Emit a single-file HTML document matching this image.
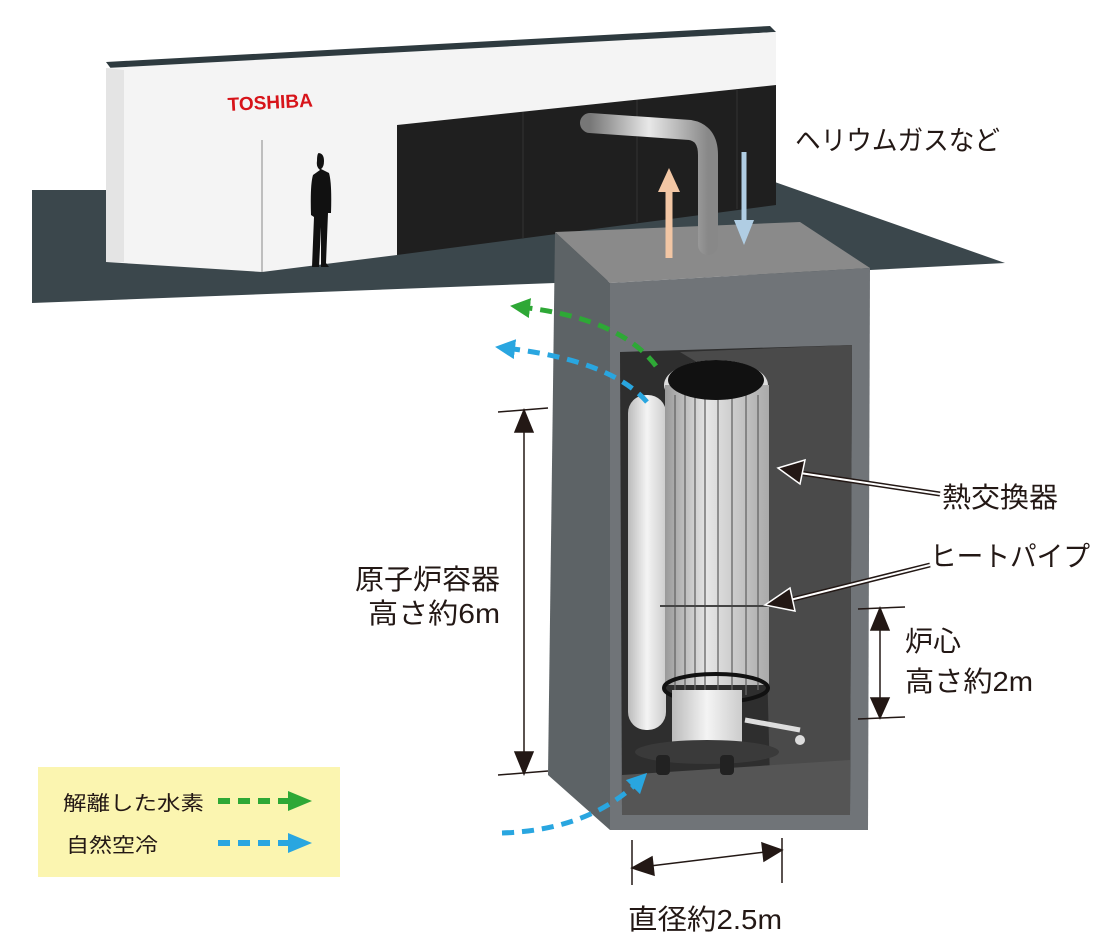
<!DOCTYPE html>
<html><head><meta charset="utf-8"><style>
html,body{margin:0;padding:0;background:#fff}
svg{display:block}
text{font-family:"Liberation Sans","Noto Sans CJK JP",sans-serif;fill:#231815}
</style></head><body>
<svg width="1098" height="940" viewBox="0 0 1098 940" xmlns="http://www.w3.org/2000/svg">
<defs>
<linearGradient id="pipe" x1="0" x2="1"><stop offset="0" stop-color="#777"/><stop offset=".5" stop-color="#e8e8e8"/><stop offset="1" stop-color="#888"/></linearGradient>
<linearGradient id="core" x1="0" x2="1"><stop offset="0" stop-color="#999"/><stop offset=".4" stop-color="#e6e6e6"/><stop offset="1" stop-color="#aaa"/></linearGradient>
<linearGradient id="tank" x1="0" x2="1"><stop offset="0" stop-color="#bbb"/><stop offset=".5" stop-color="#f4f4f4"/><stop offset="1" stop-color="#ccc"/></linearGradient>
<marker id="ag" markerWidth="4" markerHeight="4" refX="2" refY="2" orient="auto" markerUnits="strokeWidth"><path d="M0,0 L4,2 L0,4 Z" fill="#2ea836"/></marker>
<marker id="ab" markerWidth="4" markerHeight="4" refX="2" refY="2" orient="auto" markerUnits="strokeWidth"><path d="M0,0 L4,2 L0,4 Z" fill="#29a6e0"/></marker>
</defs>
<polygon points="32,190 108,190 735,168 1005,263 870,270 555,283 32,303" fill="#3b474c"/>
<polygon points="106,62 770,26 776,32 112,70" fill="#2e3a3f"/>
<polygon points="106,68 776,32 776,85 397,125 397,255 262,272 106,262" fill="#f4f4f4"/>
<polygon points="106,68 124,70 124,262 106,262" fill="#e4e4e4"/>
<line x1="262" y1="140" x2="262" y2="272" stroke="#888" stroke-width="1"/>
<polygon points="397,125 776,85 776,205 397,255" fill="#1f1f1f"/>
<line x1="523" y1="112" x2="523" y2="238" stroke="#333"/>
<line x1="637" y1="100" x2="637" y2="222" stroke="#333"/>
<line x1="737" y1="89" x2="737" y2="209" stroke="#333"/>
<text x="228" y="111" font-size="19" font-weight="bold" style="fill:#d7141a" transform="rotate(-3 228 111)">TOSHIBA</text>
<path d="M318,153 q6,0 6,8 q0,6 -3,8 l8,4 q3,10 2,40 l-3,0 l-2,50 l3,4 l-8,0 l0,-40 l-2,40 l-7,0 l2,-50 l-3,-2 q-1,-30 2,-40 l7,-5 q-4,-3 -3,-9 q0,-8 2,-8z" fill="#111"/>
<polygon points="555,232 800,222 870,268 610,283" fill="#8a8a8a"/>
<polygon points="555,232 610,283 610,830 548,775" fill="#5d6366"/>
<polygon points="610,283 870,268 868,830 610,830" fill="#707478"/>
<polygon points="620,352 852,345 850,815 622,815" fill="#2e2e2e"/>
<polygon points="680,352 852,345 850,815 770,780 760,400" fill="#4a4a4a"/>
<polygon points="622,775 850,760 850,815 622,815" fill="#555"/>
<path d="M590,123 L690,130 Q708,133 708,155 L708,245" fill="none" stroke="url(#pipe)" stroke-width="20" stroke-linecap="round"/>
<rect x="628" y="395" width="38" height="335" rx="18" fill="url(#tank)"/>
<ellipse cx="716" cy="385" rx="52" ry="25" fill="#ddd"/>
<rect x="665" y="385" width="104" height="300" fill="url(#core)"/>
<g stroke="#666" stroke-width="1.3">
<line x1="675" y1="395" x2="675" y2="690"/><line x1="685" y1="395" x2="685" y2="695"/><line x1="695" y1="395" x2="695" y2="698"/><line x1="705" y1="395" x2="705" y2="700"/><line x1="718" y1="395" x2="718" y2="700"/><line x1="732" y1="395" x2="732" y2="698"/><line x1="746" y1="395" x2="746" y2="695"/><line x1="758" y1="395" x2="758" y2="690"/>
</g>
<line x1="660" y1="606" x2="772" y2="606" stroke="#444" stroke-width="2"/>
<ellipse cx="716" cy="380" rx="48" ry="20" fill="#111"/>
<ellipse cx="716" cy="688" rx="52" ry="14" fill="none" stroke="#111" stroke-width="4"/>
<rect x="672" y="690" width="70" height="58" fill="url(#tank)"/>
<ellipse cx="707" cy="752" rx="72" ry="12" fill="#3a3a3a"/>
<g fill="#222"><rect x="656" y="755" width="14" height="20" rx="4"/><rect x="720" y="755" width="14" height="20" rx="4"/></g>
<path d="M745,720 L800,730" stroke="#ddd" stroke-width="5"/>
<circle cx="800" cy="740" r="5" fill="#ddd"/>
<path d="M669,258 L669,190" stroke="#f2c6a4" stroke-width="7"/><polygon points="658,192 680,192 669,168" fill="#f2c6a4"/>
<path d="M744,152 L744,222" stroke="#b0cde3" stroke-width="5"/><polygon points="734,220 754,220 744,245" fill="#b0cde3"/>
<path d="M656,366 Q620,318 520,307" fill="none" stroke="#2ea836" stroke-width="5" stroke-dasharray="12,8" marker-end="url(#ag)"/>
<path d="M647,402 Q610,360 505,348" fill="none" stroke="#29a6e0" stroke-width="5" stroke-dasharray="12,8" marker-end="url(#ab)"/>
<path d="M502,833 Q590,830 640,780" fill="none" stroke="#29a6e0" stroke-width="5" stroke-dasharray="12,8" marker-end="url(#ab)"/>
<g stroke="#231815" stroke-width="1.5" fill="#231815">
<line x1="498" y1="412" x2="548" y2="408"/><line x1="498" y1="775" x2="548" y2="771"/>
<line x1="524" y1="430" x2="524" y2="755"/>
<polygon points="515,432 533,432 524,410"/><polygon points="515,752 533,752 524,774"/>
<line x1="858" y1="609" x2="905" y2="607"/><line x1="858" y1="719" x2="905" y2="717"/>
<line x1="880" y1="628" x2="880" y2="700"/>
<polygon points="871,630 889,630 880,608"/><polygon points="871,698 889,698 880,718"/>
<line x1="632" y1="840" x2="632" y2="885"/><line x1="782" y1="838" x2="782" y2="883"/>
<line x1="650" y1="866" x2="765" y2="852"/>
<polygon points="652,857 654,875 632,868"/><polygon points="762,843 764,861 782,850"/>
</g>
<g>
<path d="M940,494 L800,473" stroke="#231815" stroke-width="5"/><path d="M940,494 L800,473" stroke="#fff" stroke-width="2"/>
<polygon points="778,468 805,460 800,484" fill="#231815" stroke="#fff" stroke-width="1.5"/>
<path d="M930,565 L790,600" stroke="#231815" stroke-width="5"/><path d="M930,565 L790,600" stroke="#fff" stroke-width="2"/>
<polygon points="765,605 790,588 795,611" fill="#231815" stroke="#fff" stroke-width="1.5"/>
</g>
<text x="795" y="150" font-size="27" textLength="205" lengthAdjust="spacingAndGlyphs">ヘリウムガスなど</text>
<text x="942" y="507" font-size="28" textLength="116" lengthAdjust="spacingAndGlyphs">熱交換器</text>
<text x="930" y="566" font-size="28" textLength="160" lengthAdjust="spacingAndGlyphs">ヒートパイプ</text>
<text x="905" y="651" font-size="28">炉心</text>
<text x="905" y="691" font-size="28" textLength="128" lengthAdjust="spacingAndGlyphs">高さ約2m</text>
<text x="355" y="589" font-size="28" textLength="145" lengthAdjust="spacingAndGlyphs">原子炉容器</text>
<text x="368" y="623" font-size="28" textLength="132" lengthAdjust="spacingAndGlyphs">高さ約6m</text>
<text x="628" y="929" font-size="28" textLength="154" lengthAdjust="spacingAndGlyphs">直径約2.5m</text>
<rect x="38" y="767" width="302" height="110" fill="#fbf5b0"/>
<text x="63" y="810" font-size="20" textLength="141" lengthAdjust="spacingAndGlyphs">解離した水素</text>
<text x="66" y="852" font-size="20" textLength="92" lengthAdjust="spacingAndGlyphs">自然空冷</text>
<path d="M218,801 L290,801" stroke="#2ea836" stroke-width="6" stroke-dasharray="12,8"/>
<polygon points="288,791 312,801 288,811" fill="#2ea836"/>
<path d="M218,843 L290,843" stroke="#29a6e0" stroke-width="6" stroke-dasharray="12,8"/>
<polygon points="288,833 312,843 288,853" fill="#29a6e0"/>
</svg>
</body></html>
